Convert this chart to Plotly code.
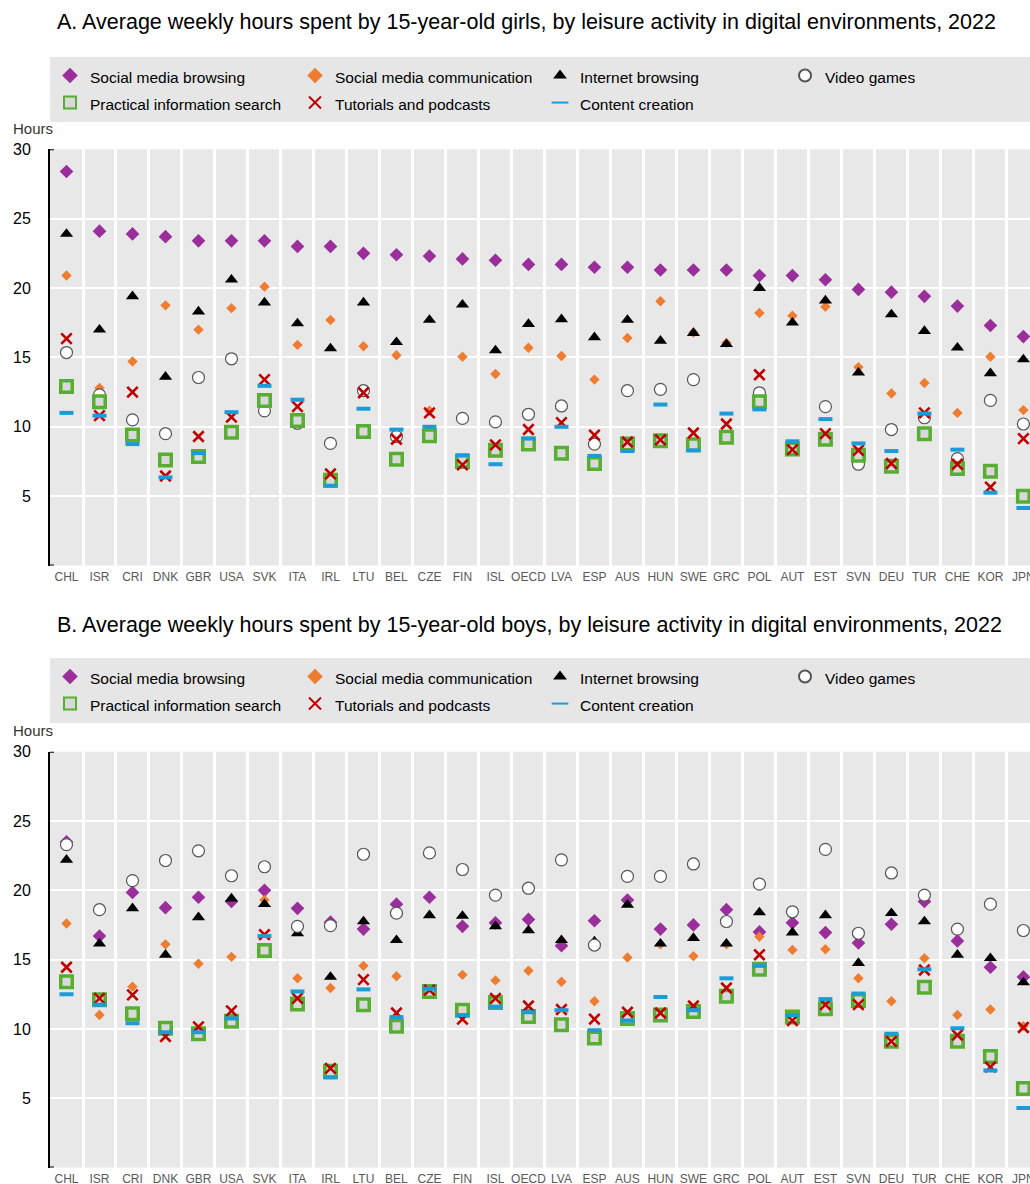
import plotly.graph_objects as go
from plotly.subplots import make_subplots

countries = ["CHL","ISR","CRI","DNK","GBR","USA","SVK","ITA","IRL","LTU","BEL","CZE","FIN","ISL","OECD",
             "LVA","ESP","AUS","HUN","SWE","GRC","POL","AUT","EST","SVN","DEU","TUR","CHE","KOR","JPN"]

series_names = ["Social media browsing", "Social media communication", "Internet browsing", "Video games",
                "Practical information search", "Tutorials and podcasts", "Content creation"]

# Girls (panel A)
girls_social_browse = [28.4,24.1,23.9,23.7,23.4,23.4,23.4,23.0,23.0,22.5,22.4,22.3,22.1,22.0,21.7,
                       21.7,21.5,21.5,21.3,21.3,21.3,20.9,20.9,20.6,19.9,19.7,19.4,18.7,17.3,16.5]
girls_social_comm = [20.9,12.8,14.7,18.75,17.0,18.55,20.1,15.9,17.7,15.8,15.15,11.15,15.05,13.8,15.7,
                     15.1,13.4,16.4,19.05,16.8,16.05,18.2,18.0,18.65,14.3,12.4,13.15,11.0,15.05,11.2]
girls_internet = [23.9,17.0,19.4,13.6,18.3,20.6,18.95,17.45,15.65,18.95,16.1,17.7,18.8,15.5,17.4,
                  17.75,16.45,17.7,16.2,16.75,15.95,20.0,17.5,19.1,13.9,18.1,16.9,15.7,13.85,14.85]
girls_video = [15.35,12.3,10.5,9.5,13.55,14.9,11.15,10.25,8.8,12.6,9.3,9.4,10.6,10.35,10.9,
               11.5,8.75,12.6,12.7,13.4,9.3,12.45,8.5,11.45,7.3,9.8,10.65,7.7,11.9,10.2]
girls_practical = [12.9,11.8,9.4,7.6,7.85,9.6,11.9,10.45,6.15,9.65,7.65,9.35,7.5,8.3,8.75,
                   8.1,7.35,8.75,9.0,8.7,9.25,11.8,8.4,9.1,7.95,7.15,9.5,7.0,6.8,5.0]
girls_tutorials = [16.35,10.8,12.5,6.45,9.3,10.7,13.4,11.45,6.6,12.45,9.1,11.0,7.25,8.7,9.8,
                   10.3,9.4,8.9,9.05,9.55,10.2,13.75,8.35,9.5,8.3,7.35,11.0,7.3,5.65,9.15]
girls_content = [11.0,10.8,8.75,6.35,8.1,11.05,12.95,11.95,5.75,11.3,9.8,10.0,7.95,7.3,9.15,
                 10.0,7.9,8.25,11.6,8.3,10.95,11.25,8.95,10.55,8.8,8.25,10.95,8.35,5.25,4.15]

# Boys (panel B)
boys_social_browse = [23.5,16.7,19.85,18.75,19.5,19.2,20.0,18.7,17.7,17.2,19.0,19.5,17.4,17.65,17.9,
                      16.0,17.8,19.3,17.2,17.5,18.6,17.0,17.65,16.95,16.2,17.55,19.2,16.35,14.45,13.75]
boys_social_comm = [17.6,11.0,13.05,16.1,14.7,15.2,19.3,13.65,12.95,14.55,13.8,12.9,13.9,13.5,14.2,
                    13.4,12.0,15.15,16.1,15.25,16.1,16.65,15.7,15.75,13.65,12.0,15.1,11.0,11.4,10.2]
boys_internet = [22.2,16.15,18.7,15.35,18.05,19.4,19.0,16.9,13.75,17.75,16.4,18.2,18.15,17.4,17.1,
                 16.4,16.3,18.95,16.15,16.55,16.15,18.4,16.95,18.2,14.75,18.35,17.75,15.35,15.1,13.35]
boys_video = [23.3,18.6,20.7,22.15,22.85,21.05,21.7,17.4,17.45,22.6,18.35,22.7,21.5,19.65,20.15,
              22.2,16.05,21.0,21.0,21.9,17.75,20.45,18.45,22.95,16.9,21.25,19.65,17.2,19.0,17.1]
boys_practical = [13.4,12.1,11.1,10.05,9.65,10.55,15.65,11.8,6.95,11.75,10.2,12.7,11.35,11.9,10.9,
                  10.3,9.35,10.75,11.0,11.25,12.35,14.3,10.85,11.45,12.05,9.1,13.0,9.1,8.0,5.7]
boys_tutorials = [14.45,12.2,12.45,9.45,10.15,11.3,16.8,12.2,7.15,13.55,11.15,12.8,10.7,12.2,11.65,
                  11.4,10.7,11.2,11.15,11.65,12.95,15.35,10.6,11.75,11.75,9.1,14.25,9.55,7.25,10.1]
boys_content = [12.5,11.75,10.4,9.75,9.75,10.75,16.7,12.7,6.5,12.85,10.85,12.9,11.0,11.6,11.2,
                11.35,9.9,10.6,12.3,11.35,13.65,14.55,11.0,12.15,12.55,9.65,14.3,10.05,7.0,4.3]

y_ticks = [5, 10, 15, 20, 25, 30]
titles = ["A. Average weekly hours spent by 15-year-old girls, by leisure activity in digital environments, 2022",
          "B. Average weekly hours spent by 15-year-old boys, by leisure activity in digital environments, 2022"]

FONT = "Liberation Sans, Arial, sans-serif"

styles = [
    dict(symbol="diamond", size=10.5, color="#9A2E9A"),
    dict(symbol="diamond", size=8, color="#EE7D31"),
    dict(symbol="triangle-up", size=11.5, color="#000000"),
    dict(symbol="circle", size=12, color="#FFFFFF", line=dict(color="#555555", width=1.2)),
    dict(symbol="square", size=11.5, color="#D9D9D9", line=dict(color="#57AE33", width=3.5)),
    dict(symbol="x-thin", size=10.5, line=dict(color="#C00000", width=2.6)),
    dict(symbol="line-ew", size=10, line=dict(color="#1D9BD7", width=4)),
]

H = 1184
W = 1030
L = 50

fig = make_subplots(rows=2, cols=1)
xs = list(range(len(countries)))
panels = [
    [girls_social_browse, girls_social_comm, girls_internet, girls_video, girls_practical, girls_tutorials, girls_content],
    [boys_social_browse, boys_social_comm, boys_internet, boys_video, boys_practical, boys_tutorials, boys_content],
]
legend_ids = ["legend", "legend2"]
for p, data in enumerate(panels):
    for name, vals, st in zip(series_names, data, styles):
        fig.add_trace(go.Scatter(x=xs, y=vals, mode="markers",
                                 name='<span style="font-size:15.5px">' + name + '</span>',
                                 marker=st, legend=legend_ids[p],
                                 hovertemplate=name + ": %{y}<extra></extra>"), row=p + 1, col=1)

def ypaper(px):
    return (H - px) / H

domains = [(ypaper(565.5), ypaper(149.3)), (ypaper(1167.5), ypaper(751.7))]
plot_w = W - L
for i, dom in enumerate(domains):
    xa = "xaxis" if i == 0 else "xaxis2"
    ya = "yaxis" if i == 0 else "yaxis2"
    fig.layout[xa].update(domain=[0, 1], range=[-0.5, 29.2], tickmode="array", tickvals=xs, ticktext=countries,
                          showgrid=False, zeroline=False, showline=False, ticks="", automargin=False,
                          ticklabeloverflow="allow", ticklabelstandoff=2,
                          tickfont=dict(family=FONT, size=12, color="#595959"),
                          minor=dict(tickmode="linear", tick0=0.5, dtick=1, showgrid=True,
                                     gridcolor="white", gridwidth=3, ticks=""))
    fig.layout[ya].update(domain=list(dom), range=[0, 30], tickmode="array", tickvals=y_ticks,
                          showgrid=True, gridcolor="white", gridwidth=2, zeroline=False,
                          showline=True, linecolor="black", linewidth=2, ticks="", automargin=False,
                          ticklabelstandoff=14, tickfont=dict(family=FONT, size=16, color="#000000"))
    yref = "y" if i == 0 else "y2"
    xdom = "x domain" if i == 0 else "x2 domain"
    for yv in (0, 30):
        fig.add_shape(type="line", xref=xdom, yref=yref, x0=0, x1=0.004, y0=yv, y1=yv,
                      line=dict(color="black", width=2))
    fig.add_annotation(text=titles[i], xref="paper", yref="paper", x=(55 - L) / plot_w,
                       y=ypaper(22 if i == 0 else 625), xanchor="left", yanchor="middle",
                       showarrow=False, font=dict(family=FONT, size=21.5, color="#000000"))
    fig.add_annotation(text="Hours", xref="paper", yref="paper", x=(11 - L) / plot_w,
                       y=ypaper(128 if i == 0 else 730), xanchor="left", yanchor="middle",
                       showarrow=False, font=dict(family=FONT, size=15, color="#333333"))

legend_common = dict(orientation="h", xanchor="left", yanchor="top", bgcolor="#E6E6E6",
                     font=dict(family=FONT, size=18.5, color="#000000"), entrywidth=200,
                     entrywidthmode="pixels", itemsizing="constant", tracegroupgap=0)
fig.update_layout(
    width=W, height=H, margin=dict(l=L, r=0, t=0, b=0),
    plot_bgcolor="#E8E8E8", paper_bgcolor="white", showlegend=True,
    legend=dict(x=0, y=ypaper(57), **legend_common),
    legend2=dict(x=0, y=ypaper(658), **legend_common),
)

fig.write_html("out.html")
